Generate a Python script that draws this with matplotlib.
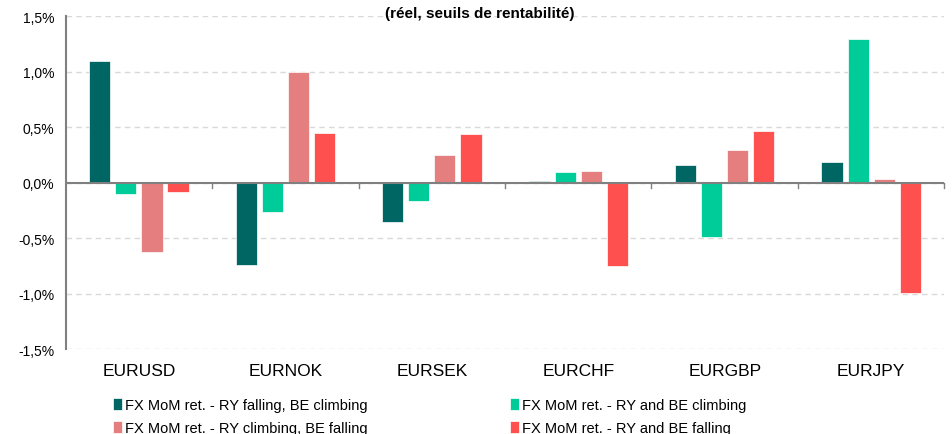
import numpy as np
import matplotlib
matplotlib.use("Agg")
import matplotlib.pyplot as plt
from matplotlib.ticker import FuncFormatter

plt.rcParams['font.family'] = ['Liberation Sans Narrow', 'Liberation Sans', 'DejaVu Sans']

pairs = ["EURUSD", "EURNOK", "EURSEK", "EURCHF", "EURGBP", "EURJPY"]
ry_fall_be_climb = [1.10, -0.74, -0.35, 0.02, 0.16, 0.19]
ry_be_climb = [-0.10, -0.26, -0.16, 0.10, -0.49, 1.30]
ry_climb_be_fall = [-0.62, 1.00, 0.25, 0.11, 0.30, 0.03]
ry_be_fall = [-0.08, 0.45, 0.44, -0.75, 0.47, -0.99]

series = [
    ("FX MoM ret. - RY falling, BE climbing", ry_fall_be_climb, "#006663"),
    ("FX MoM ret. - RY and BE climbing", ry_be_climb, "#00CC99"),
    ("FX MoM ret. - RY climbing, BE falling", ry_climb_be_fall, "#E57E7E"),
    ("FX MoM ret. - RY and BE falling", ry_be_fall, "#FF5050"),
]

fig = plt.figure(figsize=(9.52, 4.35), dpi=100)
ax = fig.add_axes([0.069, 0.195, 0.923, 0.765])

x = np.arange(len(pairs))
step = 0.178
width = 0.145
offsets = [-1.5 * step, -0.5 * step, 0.5 * step, 1.5 * step]
handles = []
for (label, vals, color), off in zip(series, offsets):
    h = ax.bar(x + off, vals, width, color=color, edgecolor="white", linewidth=0.5,
               label=label, zorder=3)
    handles.append(h)

ax.set_xlim(-0.5, len(pairs) - 0.5)
ax.set_ylim(-1.5, 1.5)
ax.set_yticks(np.arange(-1.5, 1.51, 0.5))
ax.yaxis.set_major_formatter(FuncFormatter(lambda v, p: f"{v:.1f}%".replace(".", ",")))
ax.grid(axis="y", color="#d9d9d9", linestyle=(0, (4, 3)), linewidth=1, zorder=0)

for s in ["top", "right", "bottom"]:
    ax.spines[s].set_visible(False)
ax.spines["left"].set_color("#808080")
ax.spines["left"].set_linewidth(1.5)
ax.tick_params(axis="y", length=0, labelsize=10, pad=8)

ax.axhline(0, color="#808080", linewidth=1.5, zorder=4)
for b in np.arange(0.5, len(pairs), 1.0):
    ax.plot([b, b], [0, -0.05], color="#808080", linewidth=1, zorder=4, clip_on=False)

ax.set_xticks(x)
ax.set_xticklabels(pairs, fontsize=12.5)
ax.tick_params(axis="x", length=0, pad=10)

fig.text(0.504, 0.968, "(réel, seuils de rentabilité)", fontsize=11, fontweight="bold",
         ha="center", va="center")

order = [0, 2, 1, 3]
fig.legend(handles=[handles[i] for i in order],
           labels=[series[i][0] for i in order], ncol=2, loc="lower left",
           bbox_to_anchor=(0.105, -0.033), frameon=False, fontsize=10.5,
           handlelength=0.6, handleheight=0.9, handletextpad=0.2,
           columnspacing=9.8, labelspacing=0.6)

fig.savefig("out.png", dpi=100)
